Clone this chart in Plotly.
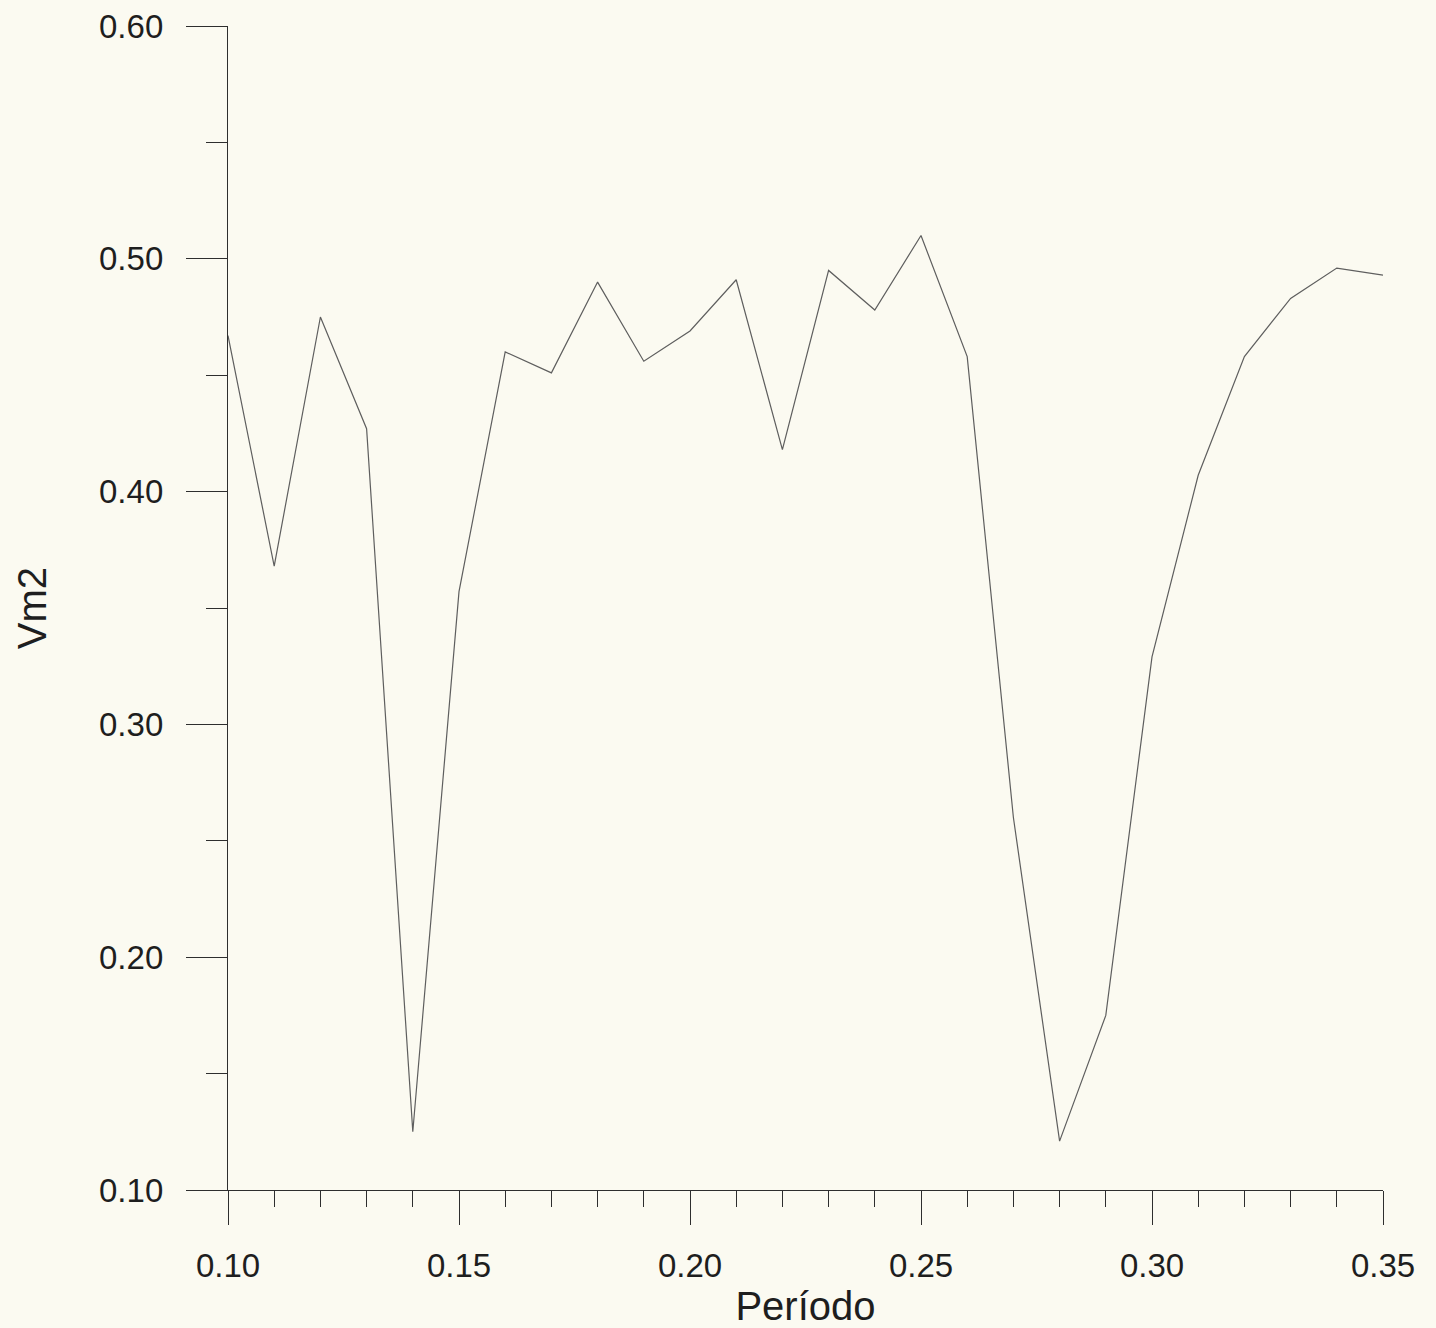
import plotly.graph_objects as go

# Period (s) sampled every 0.01
periodo = [0.10, 0.11, 0.12, 0.13, 0.14, 0.15, 0.16, 0.17, 0.18, 0.19,
           0.20, 0.21, 0.22, 0.23, 0.24, 0.25, 0.26, 0.27, 0.28, 0.29,
           0.30, 0.31, 0.32, 0.33, 0.34, 0.35]

# Vm2 response for each period
vm2 = [0.467, 0.368, 0.475, 0.427, 0.125, 0.357, 0.460, 0.451, 0.490, 0.456,
       0.469, 0.491, 0.418, 0.495, 0.478, 0.510, 0.458, 0.260, 0.121, 0.175,
       0.329, 0.407, 0.458, 0.483, 0.496, 0.493]

x_ticks = [0.10, 0.15, 0.20, 0.25, 0.30, 0.35]
x_ticklabels = ["0.10", "0.15", "0.20", "0.25", "0.30", "0.35"]
y_ticks = [0.10, 0.20, 0.30, 0.40, 0.50, 0.60]
y_ticklabels = ["0.10", "0.20", "0.30", "0.40", "0.50", "0.60"]

paper = "#fbfaf1"
ink = "#2e2e2e"
font_family = "Liberation Sans, Arial, sans-serif"

fig = go.Figure()
fig.add_trace(go.Scatter(
    x=periodo, y=vm2, mode="lines",
    line=dict(color="#5e5e5e", width=1.2),
    showlegend=False, hoverinfo="x+y",
))

fig.update_layout(
    width=1436, height=1328,
    paper_bgcolor=paper, plot_bgcolor=paper,
    margin=dict(l=228, r=53, t=26, b=138, autoexpand=False),
    font=dict(family=font_family, color="#1e1e1e"),
)

fig.update_xaxes(
    range=[0.10, 0.35], showgrid=False, zeroline=False,
    showline=True, linecolor=ink, linewidth=1.3,
    tickmode="array", tickvals=x_ticks, ticktext=x_ticklabels,
    ticks="outside", ticklen=34, tickwidth=1, tickcolor=ink,
    ticklabelstandoff=12,
    tickfont=dict(size=33, family=font_family, color="#1e1e1e"),
    minor=dict(dtick=0.01, tick0=0.10, ticks="outside", ticklen=16,
               tickwidth=1, tickcolor=ink, showgrid=False),
    title=dict(text="Período", font=dict(size=40, family=font_family, color="#1e1e1e"),
               standoff=10),
)

fig.update_yaxes(
    range=[0.10, 0.60], showgrid=False, zeroline=False,
    showline=True, linecolor=ink, linewidth=1.3,
    tickmode="array", tickvals=y_ticks, ticktext=y_ticklabels,
    ticks="outside", ticklen=41, tickwidth=1.3, tickcolor=ink,
    ticklabelstandoff=16,
    tickfont=dict(size=33, family=font_family, color="#1e1e1e"),
    minor=dict(dtick=0.05, tick0=0.10, ticks="outside", ticklen=21,
               tickwidth=1, tickcolor=ink, showgrid=False),
    title=dict(text="Vm2", font=dict(size=40, family=font_family, color="#1e1e1e"),
               standoff=40),
)

fig.write_html("out.html")
